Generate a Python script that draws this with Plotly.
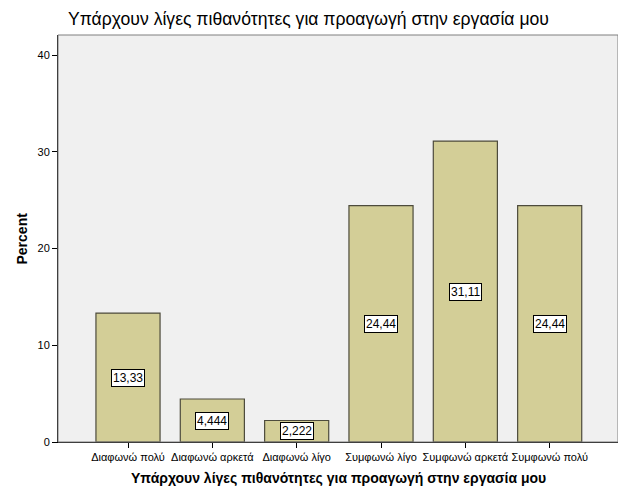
import plotly.graph_objects as go

categories = ["Διαφωνώ πολύ", "Διαφωνώ αρκετά", "Διαφωνώ λίγο",
              "Συμφωνώ λίγο", "Συμφωνώ αρκετά", "Συμφωνώ πολύ"]
percent = [13.33, 4.444, 2.222, 24.44, 31.11, 24.44]
labels = ["13,33", "4,444", "2,222", "24,44", "31,11", "24,44"]
title = "Υπάρχουν λίγες πιθανότητες για προαγωγή στην εργασία μου"

FONT = "Liberation Sans, Arial, sans-serif"

fig = go.Figure()
fig.add_trace(go.Bar(
    x=list(range(len(categories))), y=percent, width=0.76,
    marker=dict(color="#d3ce97", line=dict(color="#4d4b3c", width=1.2)),
    hoverinfo="skip",
))

for i, (v, t) in enumerate(zip(percent, labels)):
    fig.add_annotation(x=i, y=v / 2, text=t, showarrow=False,
                       font=dict(family=FONT, size=12, color="black"),
                       bgcolor="white", bordercolor="black", borderwidth=1,
                       borderpad=1)

fig.add_shape(type="rect", xref="paper", yref="paper", x0=0, y0=0, x1=1, y1=1,
              line=dict(color="#7f7f7f", width=1), layer="above")

fig.add_annotation(xref="paper", yref="paper", x=0.015, y=1, yshift=16,
                   xanchor="left", yanchor="middle", text=title, showarrow=False,
                   font=dict(family=FONT, size=17.6, color="black"))
fig.add_annotation(xref="paper", yref="paper", x=0.5, y=0, yshift=-36,
                   xanchor="center", yanchor="middle",
                   text="<b>" + title + "</b>", showarrow=False,
                   font=dict(family=FONT, size=14, color="black"))
fig.add_annotation(xref="paper", yref="paper", x=0, xshift=-37, y=0.5,
                   xanchor="center", yanchor="middle", textangle=-90,
                   text="<b>Percent</b>", showarrow=False,
                   font=dict(family=FONT, size=14, color="black"))

# The page body adds an 8px offset; compensate so the plot lands where the reference has it.
fig.update_layout(
    width=618, height=493,
    margin=dict(l=50, r=8, t=27, b=59),
    paper_bgcolor="white", plot_bgcolor="#f0f0f0",
    showlegend=False,
    font=dict(family=FONT, size=11, color="black"),
    xaxis=dict(range=[-0.83, 5.81], tickvals=list(range(len(categories))),
               ticktext=categories, ticks="outside", ticklen=5,
               tickcolor="black", showline=True, linecolor="black",
               linewidth=1, showgrid=False, zeroline=False,
               tickfont=dict(family=FONT, size=11, color="black")),
    yaxis=dict(range=[0, 42.07], tickvals=[0, 10, 20, 30, 40],
               ticks="outside", ticklen=5, tickcolor="black",
               showline=True, linecolor="black", linewidth=1,
               showgrid=False, zeroline=False,
               tickfont=dict(family=FONT, size=11, color="black")),
)

fig.write_html("out.html")
